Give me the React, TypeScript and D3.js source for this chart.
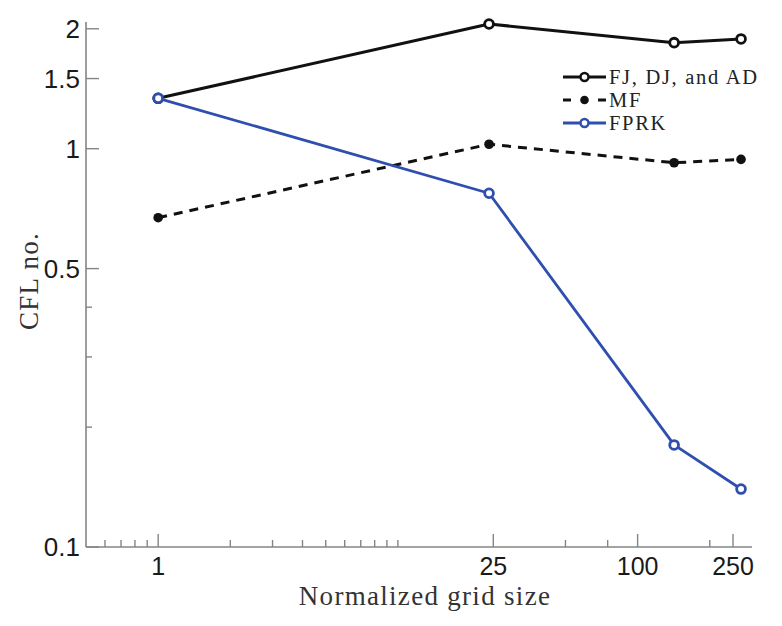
import React from "react";
import * as d3 from "d3";

const gridSizes = [1, 24, 142, 270];
const fjValues = [1.338, 2.056, 1.846, 1.886];
const mfValues = [0.671, 1.026, 0.922, 0.94];
const fprkValues = [1.338, 0.773, 0.1804, 0.1398];

const xMajorTicks = [1, 25, 100, 250];
const xMinorTicks = [0.6, 0.7, 0.8, 0.9, 2, 3, 4, 5, 6, 7, 8, 9, 10, 50, 75, 200];
const yMajorTicks = [0.1, 0.5, 1, 1.5, 2];
const yMinorTicks = [0.2, 0.3, 0.4];

const seriesNames = ["FJ, DJ, and AD", "MF", "FPRK"];

const W = 782;
const H = 626;
const BLUE = "#2f4fae";
const AXIS = "#858585";
const SERIF = "'Liberation Serif', 'Times New Roman', serif";
const SANS = "'Liberation Sans', Arial, sans-serif";

export default function App() {
  const x = d3.scaleLog().domain([0.5, 300]).range([86, 752]);
  const y = d3.scaleLog().domain([0.1, 2.08]).range([547, 22]);
  const x0 = x.range()[0];
  const y0 = y.range()[0];

  const line = d3
    .line<[number, number]>()
    .x((d) => x(d[0]))
    .y((d) => y(d[1]));

  const series = [
    { name: seriesNames[0], values: fjValues, color: "#111", dash: undefined, filled: false, width: 3 },
    { name: seriesNames[1], values: mfValues, color: "#111", dash: "9,7", filled: true, width: 3 },
    { name: seriesNames[2], values: fprkValues, color: BLUE, dash: undefined, filled: false, width: 2.8 },
  ];

  const legendX0 = 563;
  const legendX1 = 606;
  const legendYs = [77, 100, 123];

  const fmt = (v: number) => String(v);

  return (
    <svg
      width={W}
      height={H}
      style={{ position: "absolute", left: 0, top: 0, background: "#fff" }}
    >
      {/* axes */}
      <line x1={x0} y1={y.range()[1]} x2={x0} y2={y0} stroke={AXIS} strokeWidth={1.6} />
      <line x1={x0} y1={y0} x2={x.range()[1]} y2={y0} stroke={AXIS} strokeWidth={1.6} />

      {/* x ticks */}
      {xMajorTicks.map((t) => (
        <g key={"xM" + t}>
          <line x1={x(t)} x2={x(t)} y1={y0} y2={y0 - 13} stroke={AXIS} strokeWidth={1.4} />
          <text
            x={x(t)}
            y={575}
            textAnchor="middle"
            fontFamily={SANS}
            fontSize={25}
            fill="#1a1a1a"
          >
            {fmt(t)}
          </text>
        </g>
      ))}
      {xMinorTicks.map((t) => (
        <line key={"xm" + t} x1={x(t)} x2={x(t)} y1={y0} y2={y0 - 7} stroke={AXIS} strokeWidth={1.4} />
      ))}

      {/* y ticks */}
      {yMajorTicks.map((t) => (
        <g key={"yM" + t}>
          <line x1={x0} x2={x0 + 13} y1={y(t)} y2={y(t)} stroke={AXIS} strokeWidth={1.4} />
          <text
            x={80}
            y={y(t)}
            dy="0.36em"
            textAnchor="end"
            fontFamily={SANS}
            fontSize={26}
            fill="#1a1a1a"
          >
            {fmt(t)}
          </text>
        </g>
      ))}
      {yMinorTicks.map((t) => (
        <line key={"ym" + t} x1={x0} x2={x0 + 6} y1={y(t)} y2={y(t)} stroke={AXIS} strokeWidth={1.4} />
      ))}

      {/* axis titles */}
      <text
        x={425}
        y={605}
        textAnchor="middle"
        fontFamily={SERIF}
        fontSize={27}
        letterSpacing={1.3}
        fill="#333"
      >
        Normalized grid size
      </text>
      <text
        transform="translate(38,281) rotate(-90)"
        textAnchor="middle"
        fontFamily={SERIF}
        fontSize={27}
        letterSpacing={1.3}
        fill="#333"
      >
        CFL no.
      </text>

      {/* series */}
      {series.map((s) => {
        const pts: [number, number][] = gridSizes.map((g, i) => [g, s.values[i]]);
        return (
          <g key={s.name}>
            <path
              d={line(pts) || ""}
              fill="none"
              stroke={s.color}
              strokeWidth={s.width}
              strokeDasharray={s.dash}
              strokeLinejoin="round"
            />
            {pts.map((p, i) =>
              s.filled ? (
                <circle key={i} cx={x(p[0])} cy={y(p[1])} r={4.8} fill={s.color} />
              ) : (
                <circle
                  key={i}
                  cx={x(p[0])}
                  cy={y(p[1])}
                  r={4.4}
                  fill="#fff"
                  stroke={s.color}
                  strokeWidth={2.8}
                />
              )
            )}
          </g>
        );
      })}

      {/* legend */}
      {series.map((s, i) => {
        const ly = legendYs[i];
        const mx = (legendX0 + legendX1) / 2;
        return (
          <g key={"lg" + s.name}>
            {s.dash ? (
              <>
                <line x1={legendX0} x2={legendX0 + 8} y1={ly} y2={ly} stroke={s.color} strokeWidth={3} />
                <line x1={legendX1 - 8} x2={legendX1} y1={ly} y2={ly} stroke={s.color} strokeWidth={3} />
              </>
            ) : (
              <line x1={legendX0} x2={legendX1} y1={ly} y2={ly} stroke={s.color} strokeWidth={s.width} />
            )}
            {s.filled ? (
              <circle cx={mx} cy={ly} r={4.3} fill={s.color} />
            ) : (
              <circle cx={mx} cy={ly} r={4} fill="#fff" stroke={s.color} strokeWidth={2.5} />
            )}
            <text
              x={legendX1 + 3}
              y={ly}
              dy="0.35em"
              fontFamily={SERIF}
              fontSize={20.5}
              letterSpacing={1.7}
              fill="#222"
            >
              {s.name}
            </text>
          </g>
        );
      })}
    </svg>
  );
}
